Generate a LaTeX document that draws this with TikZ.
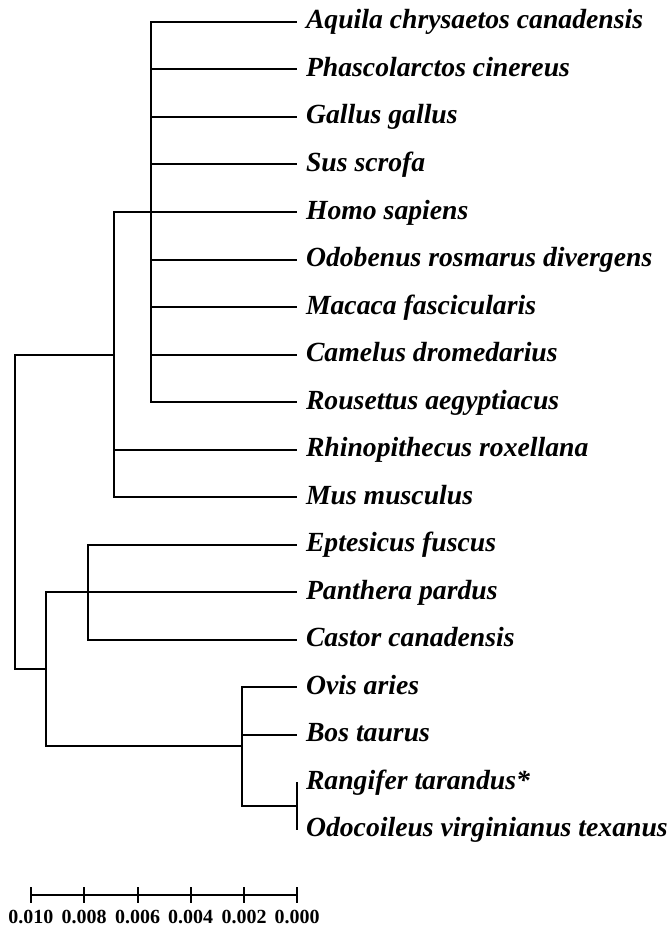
\documentclass[tikz,border=0pt]{standalone}
\usepackage{fontspec}
\setmainfont{Liberation Serif}
\tikzset{
  leaf/.style={anchor=west, inner xsep=8pt, inner ysep=0pt,
    font=\fontsize{27.7}{27.7}\selectfont\bfseries\itshape,
    text height=19pt, text depth=5pt},
  branch/.style={to path={|- (\tikztotarget)}},
  scalelabel/.style={font=\fontsize{20}{20}\selectfont\bfseries, inner sep=0pt}
}
\begin{document}
\begin{tikzpicture}[x=1pt, y=-1pt, line width=2pt]
  \useasboundingbox (0,0) rectangle (668,928);

  % leaves
  \node[leaf] (Aquila) at (297,22) {Aquila chrysaetos canadensis};
  \node[leaf] (Phascolarctos) at (297,69.5) {Phascolarctos cinereus};
  \node[leaf] (Gallus) at (297,117) {Gallus gallus};
  \node[leaf] (Sus) at (297,164.5) {Sus scrofa};
  \node[leaf] (Homo) at (297,212) {Homo sapiens};
  \node[leaf] (Odobenus) at (297,259.5) {Odobenus rosmarus divergens};
  \node[leaf] (Macaca) at (297,307) {Macaca fascicularis};
  \node[leaf] (Camelus) at (297,354.5) {Camelus dromedarius};
  \node[leaf] (Rousettus) at (297,402) {Rousettus aegyptiacus};
  \node[leaf] (Rhinopithecus) at (297,449.5) {Rhinopithecus roxellana};
  \node[leaf] (Mus) at (297,497) {Mus musculus};
  \node[leaf] (Eptesicus) at (297,544.5) {Eptesicus fuscus};
  \node[leaf] (Panthera) at (297,592) {Panthera pardus};
  \node[leaf] (Castor) at (297,639.5) {Castor canadensis};
  \node[leaf] (Ovis) at (297,687) {Ovis aries};
  \node[leaf] (Bos) at (297,734.5) {Bos taurus};
  \node[leaf] (Rangifer) at (297,782) {Rangifer tarandus*};
  \node[leaf] (Odocoileus) at (297,829.5) {Odocoileus virginianus texanus};

  % inner nodes
  \coordinate (root) at (15,512);
  \coordinate (cladeB) at (114,354.5);
  \coordinate (cladeA) at (151,212);
  \coordinate (cladeC) at (46,669);
  \coordinate (cladeD) at (88,592);
  \coordinate (cladeE) at (242,746.4);
  \coordinate (cladeF) at (297,805.75);

  \draw (root) edge[branch] (cladeB) edge[branch] (cladeC);
  \draw (cladeB) edge[branch] (cladeA) edge[branch] (Rhinopithecus.west)
    edge[branch] (Mus.west);
  \draw (cladeA) edge[branch] (Aquila.west) edge[branch] (Phascolarctos.west)
    edge[branch] (Gallus.west) edge[branch] (Sus.west) edge[branch] (Homo.west)
    edge[branch] (Odobenus.west) edge[branch] (Macaca.west)
    edge[branch] (Camelus.west) edge[branch] (Rousettus.west);
  \draw (cladeC) edge[branch] (cladeD) edge[branch] (cladeE);
  \draw (cladeD) edge[branch] (Eptesicus.west) edge[branch] (Panthera.west)
    edge[branch] (Castor.west);
  \draw (cladeE) edge[branch] (Ovis.west) edge[branch] (Bos.west)
    edge[branch] (cladeF);
  \draw (cladeF) edge[branch] (Rangifer.west) edge[branch] (Odocoileus.west);

  % scale bar
  \node[scalelabel] (s10) at (31,917) {0.010};
  \node[scalelabel] (s8) at (84,917) {0.008};
  \node[scalelabel] (s6) at (137.5,917) {0.006};
  \node[scalelabel] (s4) at (190.5,917) {0.004};
  \node[scalelabel] (s2) at (244,917) {0.002};
  \node[scalelabel] (s0) at (297,917) {0.000};
  \coordinate (t10) at (31,895);
  \coordinate (t0) at (297,895);
  \draw (t10) -- (t0);
  \draw (s10 |- 0,887) -- (s10 |- 0,903);
  \draw (s8 |- 0,887) -- (s8 |- 0,903);
  \draw (s6 |- 0,887) -- (s6 |- 0,903);
  \draw (s4 |- 0,887) -- (s4 |- 0,903);
  \draw (s2 |- 0,887) -- (s2 |- 0,903);
  \draw (s0 |- 0,887) -- (s0 |- 0,903);
\end{tikzpicture}
\end{document}
